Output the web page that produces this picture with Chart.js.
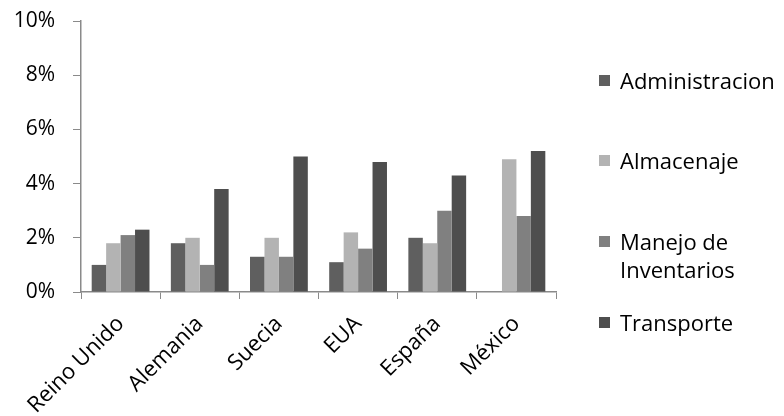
<!DOCTYPE html>
<html>
<head>
<meta charset="utf-8">
<script src="https://cdn.jsdelivr.net/npm/chart.js"></script>
<style>
  html, body { margin: 0; padding: 0; background: #fff; overflow: hidden; }
  #wrap { position: relative; width: 784px; height: 416px; overflow: hidden; }
  #legend { position: absolute; left: 0; top: 0; font-family: "Open Sans", sans-serif; font-size: 22px; color: #000; }
  .item { position: absolute; left: 599px; line-height: 28px; white-space: nowrap; }
  .item span.box { position: absolute; left: 0; top: 9px; width: 11px; height: 11px; }
  .item span.txt { position: absolute; left: 21px; top: 0; }
</style>
</head>
<body>
<div id="wrap">
  <canvas id="chart" width="784" height="416"></canvas>
  <div id="legend"></div>
</div>
<script>
// --- Data ---
const countries = ['Reino Unido', 'Alemania', 'Suecia', 'EUA', 'España', 'México'];
const seriesNames = ['Administracion', 'Almacenaje', 'Manejo de Inventarios', 'Transporte'];
const administracion = [1.0, 1.8, 1.3, 1.1, 2.0, 0];
const almacenaje = [1.8, 2.0, 2.0, 2.2, 1.8, 4.9];
const manejoInventarios = [2.1, 1.0, 1.3, 1.6, 3.0, 2.8];
const transporte = [2.3, 3.8, 5.0, 4.8, 4.3, 5.2];
const yTicks = [0, 2, 4, 6, 8, 10];

const colors = ['#5f5f5f', '#b3b3b3', '#808080', '#4e4e4e'];
const FONT = '"Open Sans", sans-serif';

const datasets = [administracion, almacenaje, manejoInventarios, transporte].map((d, i) => ({
    label: seriesNames[i],
    data: d,
    backgroundColor: colors[i],
    borderWidth: 0,
    categoryPercentage: 0.73,
    barPercentage: 1.0
}));

new Chart(document.getElementById('chart'), {
    type: 'bar',
    data: { labels: countries, datasets },
    options: {
        responsive: false,
        animation: false,
        layout: { padding: { top: 21, right: 228, left: 0, bottom: 0 } },
        plugins: { legend: { display: false }, tooltip: { enabled: false } },
        scales: {
            x: {
                grid: { display: true, drawOnChartArea: false, drawTicks: true, tickLength: 7, color: '#8a8a8a', offset: true },
                border: { display: true, color: '#8a8a8a', width: 1.5 },
                ticks: { color: '#000', font: { family: FONT, size: 22 }, minRotation: 45, maxRotation: 45, padding: 12 },
                afterFit: scale => { scale.height = 124; scale.paddingLeft = 0; scale.paddingRight = 0; }
            },
            y: {
                min: 0,
                max: 10,
                afterBuildTicks: scale => { scale.ticks = yTicks.map(v => ({ value: v })); },
                grid: { display: true, drawOnChartArea: false, drawTicks: true, tickLength: 8, color: '#8a8a8a' },
                border: { display: true, color: '#8a8a8a', width: 1.5 },
                ticks: { color: '#000', font: { family: FONT, size: 21 }, padding: 18, callback: v => v + '%' },
                afterFit: scale => { scale.width = 81; scale.paddingTop = 0; scale.paddingBottom = 0; }
            }
        }
    }
});

// --- Legend (HTML) ---
const legendRows = [
    { name: ['Administracion'], top: 66 },
    { name: ['Almacenaje'], top: 146 },
    { name: ['Manejo de', 'Inventarios'], top: 227 },
    { name: ['Transporte'], top: 308 }
];
const legendEl = document.getElementById('legend');
legendRows.forEach((row, i) => {
    const div = document.createElement('div');
    div.className = 'item';
    div.style.top = row.top + 'px';
    div.innerHTML = `<span class="box" style="background:${colors[i]}"></span><span class="txt">${row.name.join('<br>')}</span>`;
    legendEl.appendChild(div);
});
</script>
</body>
</html>
